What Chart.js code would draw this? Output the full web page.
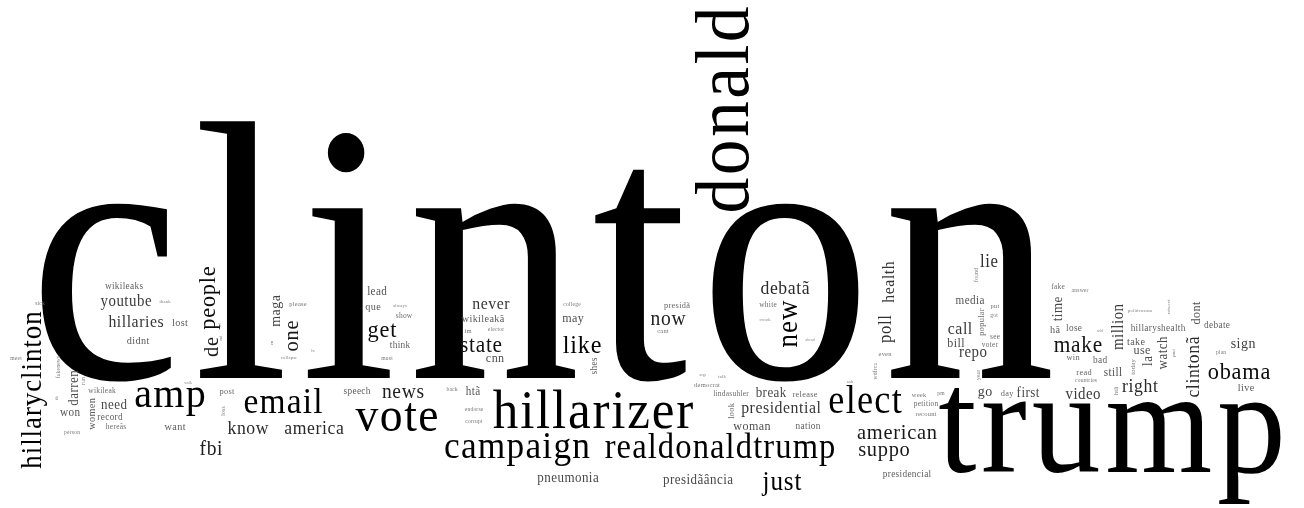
<!DOCTYPE html>
<html>
<head>
<meta charset="utf-8">
<script src="https://cdn.jsdelivr.net/npm/chart.js@4/dist/chart.umd.min.js"></script>
<style>
  html, body { margin: 0; padding: 0; background: #fff; }
  #wrap { width: 1304px; height: 508px; position: relative; }
</style>
</head>
<body>
<div id="wrap"><canvas id="c"></canvas></div>
<script>
// Word cloud data: word, weight (relative size), position in cloud space, orientation
const words = ["clinton","trump","donald","hillarizer","vote","amp","elect","campaign","email","realdonaldtrump",
"hillaryclinton","new","just","like","get","people","obama","state","make","de",
"one","american","suppo","news","now","fbi","know","america","debatã","right",
"clintonã","poll","lie","health","hillaries","never","presidential","call","youtube","million",
"video","repo","maga","go","sign","darren","need","break","pneumonia","presidãância",
"first","time","watch","la","cnn","may","woman","bill","dont","use",
"lead","won","htã","media","still","lost","didnt","want","women","que",
"wikileakã","hã","take","live","record","think","speech","shes","nation","presidencial",
"lose","bad","hillaryshealth","debate","wikileaks","post","presidã","release","look","popular",
"day","win","read","hereâs","wikileak","show","white","lindasuhler","see","voter",
"petition","fake","please","im","cant","democrat","even","put","week","recount",
"today","htã","sick","meet","fakenews","person","loss","must","back","endorse",
"corrupt","elector","college","wdfrcu","found","got","year","pm","answer","countries",
"plan","run","thank","th","en","collapse","always","crook","talk","ask",
"politicususa","retweet","kl","nd","lw","walk","ahead","urge","told","pnd"];

const weights = [370,148,77,55,49,43,39,38,36,35,
29,29,27,26,24,24,24,23,23,22,
22,22,22,21,21,21,19,19,19,19,
19,18,18,17,17,17,17,17,16,16,
16,16,15,15,15,14,14,14,14,14,
14,14,14,14,13,13,13,13,13,13,
12,12,12,12,12,11,11,11,11,11,
11,11,11,11,10,10,10,10,10,10,
10,10,10,10,10,9,9,9,9,9,
9,9,9,8,8,8,8,8,8,8,
8,8,7,7,7,7,7,7,7,7,
7,7,6,6,6,6,6,6,6,6,
6,6,6,6,6,6,6,6,6,6,
6,6,5,5,5,5,5,5,5,5,
5,5,5,5,4,4,4,4,4,5];

const wordX = [542,1112,748,593,397,170,865,517,283,720,
41,797,782,582,382,215,1239,481,1078,218,
298,897,884,403,668,211,248,314,785,1140,
1199,891,989,894,136,491,781,960,126,1123,
1083,973,280,985,1243,78,114,771,568,698,
1028,1062,1167,1152,495,573,752,956,1200,1142,
377,70,473,970,1113,180,138,175,95,373,
483,1055,1136,1246,110,400,357,597,808,907,
1074,1100,1158,1217,124,227,677,805,734,984,
1007,1073,1084,116,102,404,768,731,995,990,
926,1058,298,468,663,707,885,995,919,926,
1135,1118,40,16,60,72,225,387,452,474,
474,496,572,877,978,994,980,941,1080,1086,
1221,85,165,58,273,289,400,765,722,850,
1140,1170,221,222,313,188,810,703,1100,1175];

const wordY = [378,472,110,428,431,407,413,458,413,458,
390,324,490,353,337,298,379,352,352,347,
336,439,456,398,325,455,434,434,294,392,
367,329,267,282,327,309,413,334,306,327,
399,357,311,396,348,388,409,397,482,484,
397,309,353,361,362,322,430,347,313,354,
295,416,395,304,376,326,344,430,414,310,
322,333,345,391,420,348,394,366,429,477,
331,363,331,328,289,394,308,397,411,322,
396,360,375,429,393,318,307,396,339,347,
406,289,306,333,333,387,356,308,397,416,
367,391,305,360,367,434,411,360,391,411,
423,331,306,371,275,317,375,395,292,382,
354,381,303,398,343,359,307,321,378,383,
312,307,325,338,352,384,341,376,332,353];

const vertical = [0,0,1,0,0,0,0,0,0,0,
1,1,0,0,0,1,0,0,0,1,
1,0,0,0,0,0,0,0,0,0,
1,1,0,1,0,0,0,0,0,1,
0,0,1,0,0,1,0,0,0,0,
0,1,1,1,0,0,0,0,1,0,
0,0,0,0,0,0,0,0,1,0,
0,0,0,0,0,0,0,1,0,0,
0,0,0,0,0,0,0,0,1,1,
0,0,0,0,0,0,0,0,0,0,
0,0,0,0,0,0,0,0,0,0,
1,1,0,0,1,0,1,0,0,0,
0,0,0,1,1,0,1,0,0,0,
0,1,0,1,1,0,0,0,0,0,
0,1,1,1,0,0,0,0,0,1];

const FONT = "'Liberation Serif', 'Times New Roman', serif";
const CONDENSE = 0.93;   // glyph width factor
const TRACKING = 0.032;  // letter spacing in em

function shadeFor(size) {
  const g = Math.max(0, Math.min(140, Math.round((26 - size) * 6)));
  return `rgb(${g},${g},${g})`;
}

const wordPlugin = {
  id: 'wordcloud',
  afterDatasetsDraw(chart) {
    const ctx = chart.ctx;
    const meta = chart.getDatasetMeta(0);
    ctx.save();
    meta.data.forEach((pt, i) => {
      const size = weights[i];
      ctx.save();
      ctx.translate(pt.x, pt.y);
      if (vertical[i]) ctx.rotate(-Math.PI / 2);
      ctx.scale(CONDENSE, 1);
      ctx.font = `${size}px ${FONT}`;
      const trail = TRACKING * size / CONDENSE;
      if ('letterSpacing' in ctx) ctx.letterSpacing = trail.toFixed(2) + 'px';
      ctx.textAlign = 'left';
      ctx.textBaseline = 'alphabetic';
      ctx.fillStyle = shadeFor(size);
      const w = ctx.measureText(words[i]).width;
      ctx.fillText(words[i], -(w - trail) / 2, 0);
      ctx.restore();
    });
    ctx.restore();
  }
};

new Chart(document.getElementById('c'), {
  type: 'scatter',
  data: {
    datasets: [{
      data: wordX.map((x, i) => ({ x: x, y: wordY[i] })),
      pointRadius: 0,
      pointHoverRadius: 0
    }]
  },
  options: {
    responsive: true,
    maintainAspectRatio: false,
    animation: false,
    layout: { padding: 0 },
    plugins: { legend: { display: false }, tooltip: { enabled: false } },
    scales: {
      x: { type: 'linear', min: 0, max: 1304, display: false },
      y: { type: 'linear', min: 0, max: 508, reverse: true, display: false }
    }
  },
  plugins: [wordPlugin]
});
</script>
</body>
</html>
